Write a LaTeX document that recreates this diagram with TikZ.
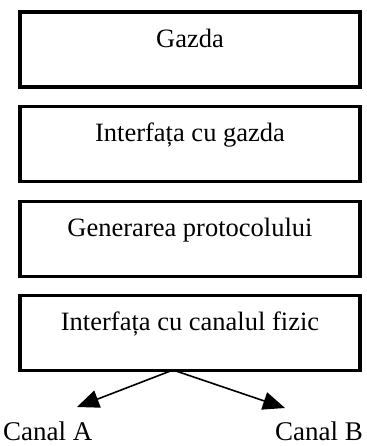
\documentclass[tikz,border=0pt]{standalone}
\usepackage{fontspec}
\setmainfont{Liberation Serif}
\usetikzlibrary{arrows.meta}
\begin{document}
\begin{tikzpicture}[x=1pt,y=-1pt,
  layerbox/.style={draw, line width=3.4pt, minimum width=340pt, inner sep=0pt,
    text height=35pt, text depth=40pt, anchor=north, font=\fontsize{26.5}{30}\selectfont},
  link/.style={line width=1.6pt, -{Triangle[length=22pt,width=18pt]}},
  lbl/.style={inner sep=0pt, font=\fontsize{27}{31}\selectfont}]
\useasboundingbox (0,0) rectangle (366,446);
\node[layerbox] (b1) at (190,10.5) {Gazda};
\node[layerbox] (b2) at (190,105) {Interfața cu gazda};
\node[layerbox] (b3) at (190,199.5) {Generarea protocolului};
\node[layerbox] (b4) at (190,294) {Interfața cu canalul fizic};
\coordinate (src) at (173,370);
\coordinate (ta) at (77,407);
\coordinate (tb) at (285,408);
\draw[link] (src) -- (ta);
\draw[link] (src) -- (tb);
\node[lbl, anchor=base west] (ca) at (3,440) {Canal A};
\node[lbl, anchor=base east] (cb) at (363,440) {Canal B};
\end{tikzpicture}
\end{document}
